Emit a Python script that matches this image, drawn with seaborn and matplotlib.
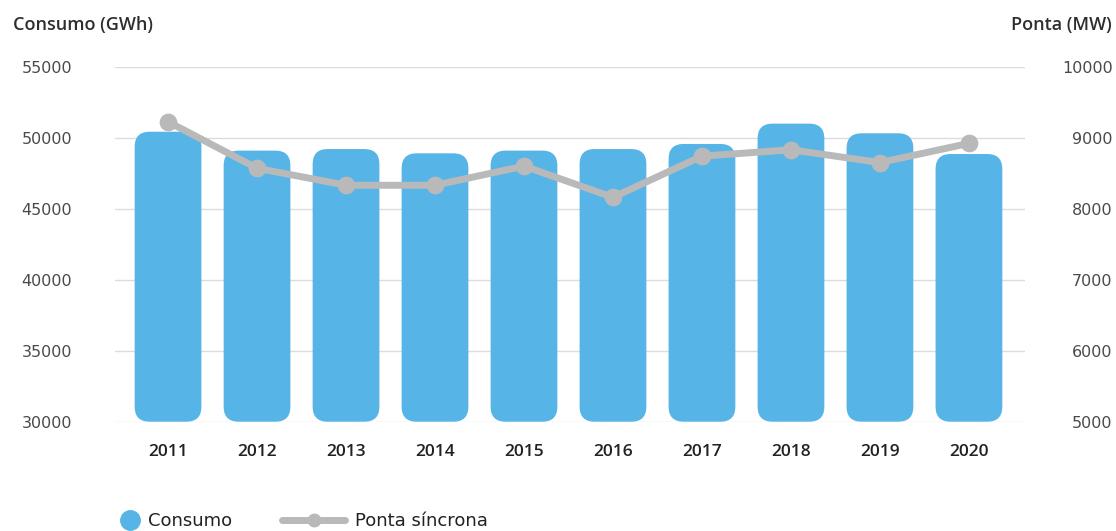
import numpy as np
import pandas as pd
import matplotlib
matplotlib.use("Agg")
import matplotlib.pyplot as plt
import seaborn as sns
from matplotlib.patches import FancyBboxPatch
from matplotlib.lines import Line2D

# ---- data ----
years = ["2011", "2012", "2013", "2014", "2015", "2016", "2017", "2018", "2019", "2020"]
consumo = [50420, 49090, 49200, 48900, 49090, 49200, 49560, 50990, 50310, 48850]
ponta = [9225, 8570, 8330, 8330, 8600, 8160, 8740, 8830, 8650, 8920]
left_ticks = [30000, 35000, 40000, 45000, 50000, 55000]
right_ticks = [5000, 6000, 7000, 8000, 9000, 10000]

BLUE = "#56B4E7"
GRAY = "#B9B9B9"
GRID = "#DCDCDC"
TXT = "#2E2E2E"
TICK = "#4A4A4A"

sns.set_theme(style="white")
plt.rcParams["font.family"] = ["DejaVu Sans"]

W, H = 1116, 531
fig = plt.figure(figsize=(W / 100, H / 100), dpi=100)
ax_l, ax_r, ax_t, ax_b = 115, 1025, 66.7, 421.7
ax = fig.add_axes([ax_l / W, 1 - ax_b / H, (ax_r - ax_l) / W, (ax_b - ax_t) / H])

df = pd.DataFrame({"Ano": years, "Consumo": consumo})
sns.barplot(data=df, x="Ano", y="Consumo", color=BLUE, width=0.75,
            saturation=1, ax=ax, errorbar=None)

xlim = (-0.596, 9.63)
ylim = (30000, 55000)
ax.set_xlim(*xlim)
ax.set_ylim(*ylim)

# rounded bars
xpx = (ax_r - ax_l) / (xlim[1] - xlim[0])
ypx = (ax_b - ax_t) / (ylim[1] - ylim[0])
aspect = xpx / ypx
radius_px = 15
bars = list(ax.patches)
for p in bars:
    x0 = p.get_x()
    w = p.get_width()
    top = p.get_y() + p.get_height()
    p.remove()
    fb = FancyBboxPatch((x0, ylim[0]), w, top - ylim[0],
                        boxstyle=f"round,pad=0,rounding_size={radius_px / xpx}",
                        mutation_aspect=aspect, facecolor=BLUE, edgecolor="none",
                        zorder=2)
    ax.add_patch(fb)

ax.set_axisbelow(True)
ax.yaxis.grid(True, color=GRID, linewidth=1)
ax.xaxis.grid(False)
ax.set_yticks(left_ticks)
ax.set_yticklabels([str(t) for t in left_ticks])
ax.tick_params(axis="y", length=0, pad=31, labelsize=11.5, labelcolor=TICK)
ax.tick_params(axis="x", length=0, pad=16, labelsize=12.5, labelcolor="#222222")
for lbl in ax.get_xticklabels():
    lbl.set_fontfamily("Open Sans")
    lbl.set_fontweight("semibold")
ax.set_xlabel("")
ax.set_ylabel("")
for s in ax.spines.values():
    s.set_visible(False)

ax2 = ax.twinx()
sns.pointplot(x=years, y=ponta, ax=ax2, color=GRAY, markers="o",
              markersize=9, linewidth=5, errorbar=None)
ax2.set_xlim(*xlim)
ax2.set_ylim(5000, 10000)
ax2.set_yticks(right_ticks)
ax2.set_yticklabels([str(t) for t in right_ticks])
ax2.tick_params(axis="y", length=0, pad=63, labelsize=11.5, labelcolor=TICK)
for lbl in ax2.get_yticklabels():
    lbl.set_ha("right")
ax2.set_ylabel("")
ax2.set_xlabel("")
ax2.grid(False)
for s in ax2.spines.values():
    s.set_visible(False)

fig.text(13 / W, 1 - 25 / H, "Consumo (GWh)", ha="left", va="center",
         fontsize=13, fontweight="semibold", color=TXT, family="Open Sans")
fig.text(1112 / W, 1 - 25 / H, "Ponta (MW)", ha="right", va="center",
         fontsize=13, fontweight="semibold", color=TXT, family="Open Sans")

h1 = Line2D([], [], marker="o", linestyle="", color=BLUE, markersize=14)
h2 = Line2D([], [], marker="o", linestyle="-", color=GRAY, linewidth=5, markersize=9)
fig.legend(handles=[h1], labels=["Consumo"], loc="center left",
           bbox_to_anchor=(120 / W, 1 - 521 / H), frameon=False, fontsize=13,
           handlelength=1.16, handletextpad=0.39, borderpad=0, borderaxespad=0,
           labelcolor="#222222")
fig.legend(handles=[h2], labels=["Ponta síncrona"], loc="center left",
           bbox_to_anchor=(282 / W, 1 - 521 / H), frameon=False, fontsize=13,
           handlelength=3.5, handletextpad=0.55, borderpad=0, borderaxespad=0,
           labelcolor="#222222")

fig.savefig("out.png", dpi=100)
